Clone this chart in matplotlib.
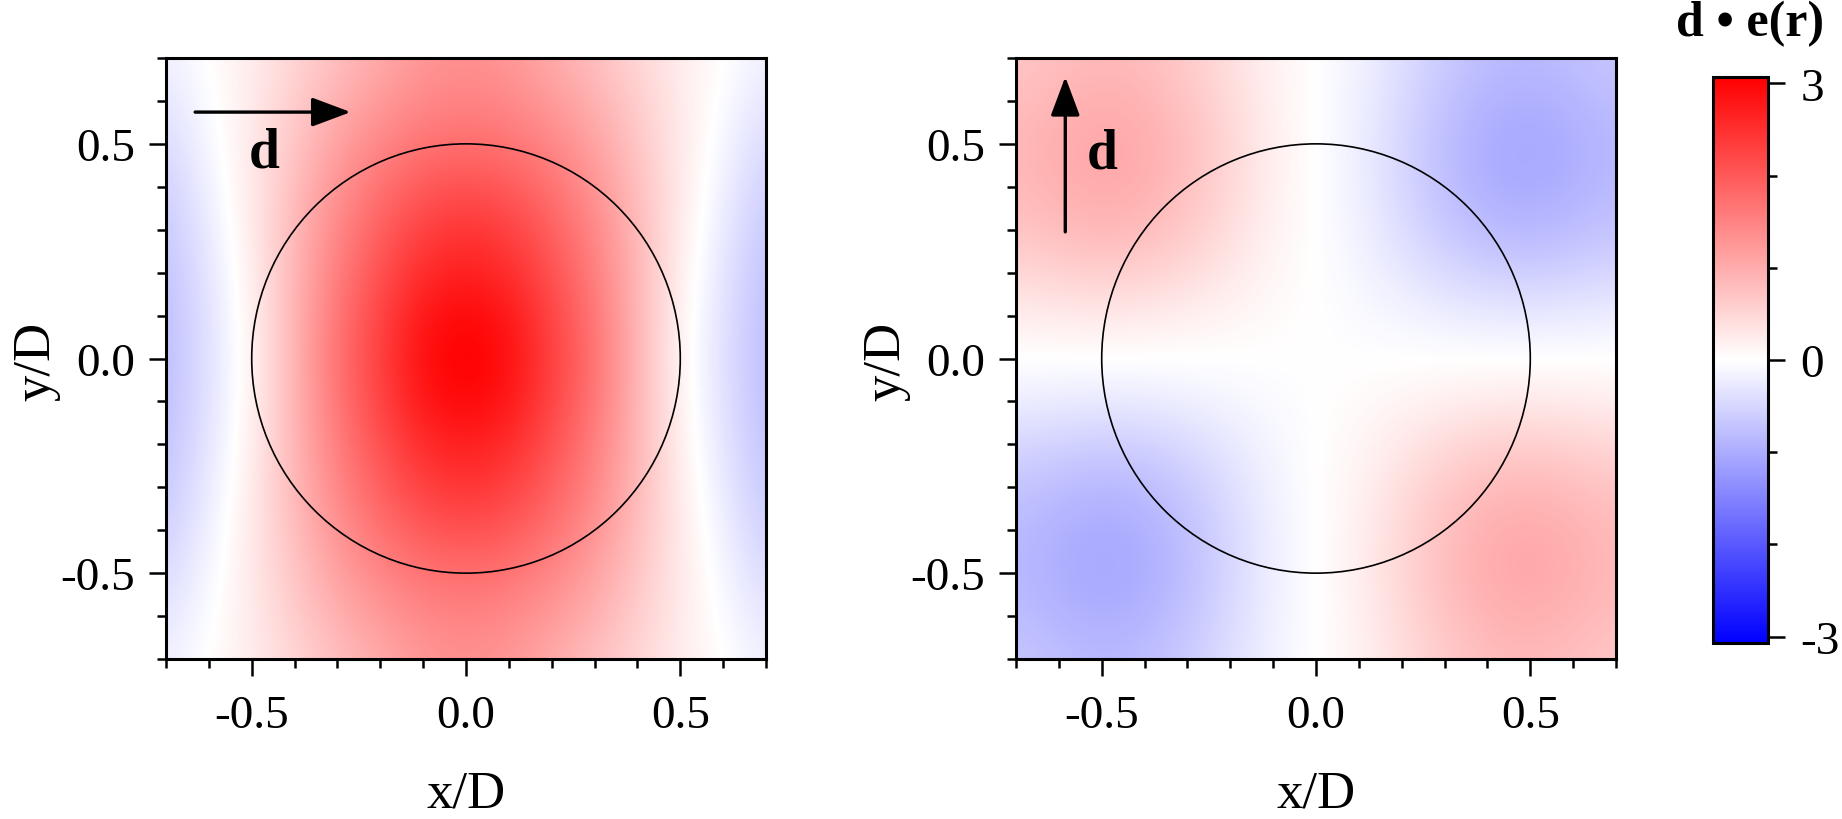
import numpy as np
import matplotlib
matplotlib.use("Agg")
import matplotlib.pyplot as plt
from matplotlib.colors import LinearSegmentedColormap, Normalize
from matplotlib.patches import Circle
from matplotlib.ticker import FixedLocator, FixedFormatter

plt.rcParams['font.family'] = 'serif'
plt.rcParams['font.serif'] = ['Liberation Serif', 'DejaVu Serif']

# grid coordinates (x/D, y/D)
grid_x = [-0.7, -0.6, -0.5, -0.4, -0.3, -0.2, -0.1, 0.0, 0.1, 0.2, 0.3, 0.4, 0.5, 0.6, 0.7]
grid_y = [-0.7, -0.6, -0.5, -0.4, -0.3, -0.2, -0.1, 0.0, 0.1, 0.2, 0.3, 0.4, 0.5, 0.6, 0.7]

# left panel: d along x  (rows: y from -0.7 to 0.7, cols: x from -0.7 to 0.7)
field_dx = [
    [-0.20, 0.02, 0.22, 0.50, 0.77, 1.02, 1.25, 1.35, 1.25, 1.02, 0.77, 0.50, 0.22, 0.02, -0.20],
    [-0.32, -0.04, 0.24, 0.60, 0.95, 1.22, 1.42, 1.50, 1.42, 1.22, 0.95, 0.60, 0.24, -0.04, -0.32],
    [-0.45, -0.10, 0.25, 0.70, 1.12, 1.45, 1.68, 1.75, 1.68, 1.45, 1.12, 0.70, 0.25, -0.10, -0.45],
    [-0.58, -0.17, 0.25, 0.78, 1.30, 1.70, 2.00, 2.10, 2.00, 1.70, 1.30, 0.78, 0.25, -0.17, -0.58],
    [-0.67, -0.24, 0.22, 0.85, 1.45, 1.92, 2.30, 2.45, 2.30, 1.92, 1.45, 0.85, 0.22, -0.24, -0.67],
    [-0.74, -0.30, 0.18, 0.88, 1.55, 2.10, 2.55, 2.70, 2.55, 2.10, 1.55, 0.88, 0.18, -0.30, -0.74],
    [-0.78, -0.34, 0.14, 0.90, 1.65, 2.25, 2.80, 3.00, 2.80, 2.25, 1.65, 0.90, 0.14, -0.34, -0.78],
    [-0.80, -0.35, 0.12, 0.90, 1.70, 2.30, 2.90, 3.10, 2.90, 2.30, 1.70, 0.90, 0.12, -0.35, -0.80],
    [-0.78, -0.34, 0.14, 0.90, 1.65, 2.25, 2.80, 3.00, 2.80, 2.25, 1.65, 0.90, 0.14, -0.34, -0.78],
    [-0.74, -0.30, 0.18, 0.88, 1.55, 2.10, 2.55, 2.70, 2.55, 2.10, 1.55, 0.88, 0.18, -0.30, -0.74],
    [-0.67, -0.24, 0.22, 0.85, 1.45, 1.92, 2.30, 2.45, 2.30, 1.92, 1.45, 0.85, 0.22, -0.24, -0.67],
    [-0.58, -0.17, 0.25, 0.78, 1.30, 1.70, 2.00, 2.10, 2.00, 1.70, 1.30, 0.78, 0.25, -0.17, -0.58],
    [-0.45, -0.10, 0.25, 0.70, 1.12, 1.45, 1.68, 1.75, 1.68, 1.45, 1.12, 0.70, 0.25, -0.10, -0.45],
    [-0.32, -0.04, 0.24, 0.60, 0.95, 1.22, 1.42, 1.50, 1.42, 1.22, 0.95, 0.60, 0.24, -0.04, -0.32],
    [-0.20, 0.02, 0.22, 0.50, 0.77, 1.02, 1.25, 1.35, 1.25, 1.02, 0.77, 0.50, 0.22, 0.02, -0.20],
]

# right panel: d along y
field_dy = [
    [-0.67, -0.77, -0.84, -0.79, -0.62, -0.39, -0.15, 0.0, 0.15, 0.39, 0.62, 0.79, 0.84, 0.77, 0.67],
    [-0.77, -0.89, -0.97, -0.91, -0.71, -0.44, -0.17, 0.0, 0.17, 0.44, 0.71, 0.91, 0.97, 0.89, 0.77],
    [-0.84, -0.97, -1.05, -0.99, -0.78, -0.48, -0.19, 0.0, 0.19, 0.48, 0.78, 0.99, 1.05, 0.97, 0.84],
    [-0.81, -0.94, -1.02, -0.96, -0.75, -0.47, -0.18, 0.0, 0.18, 0.47, 0.75, 0.96, 1.02, 0.94, 0.81],
    [-0.69, -0.79, -0.86, -0.81, -0.64, -0.40, -0.15, 0.0, 0.15, 0.40, 0.64, 0.81, 0.86, 0.79, 0.69],
    [-0.47, -0.54, -0.59, -0.55, -0.44, -0.27, -0.11, 0.0, 0.11, 0.27, 0.44, 0.55, 0.59, 0.54, 0.47],
    [-0.21, -0.24, -0.26, -0.25, -0.19, -0.12, -0.05, 0.0, 0.05, 0.12, 0.19, 0.25, 0.26, 0.24, 0.21],
    [0.0, 0.0, 0.0, 0.0, 0.0, 0.0, 0.0, 0.0, 0.0, 0.0, 0.0, 0.0, 0.0, 0.0, 0.0],
    [0.21, 0.24, 0.26, 0.25, 0.19, 0.12, 0.05, 0.0, -0.05, -0.12, -0.19, -0.25, -0.26, -0.24, -0.21],
    [0.47, 0.54, 0.59, 0.55, 0.44, 0.27, 0.11, 0.0, -0.11, -0.27, -0.44, -0.55, -0.59, -0.54, -0.47],
    [0.69, 0.79, 0.86, 0.81, 0.64, 0.40, 0.15, 0.0, -0.15, -0.40, -0.64, -0.81, -0.86, -0.79, -0.69],
    [0.81, 0.94, 1.02, 0.96, 0.75, 0.47, 0.18, 0.0, -0.18, -0.47, -0.75, -0.96, -1.02, -0.94, -0.81],
    [0.84, 0.97, 1.05, 0.99, 0.78, 0.48, 0.19, 0.0, -0.19, -0.48, -0.78, -0.99, -1.05, -0.97, -0.84],
    [0.77, 0.89, 0.97, 0.91, 0.71, 0.44, 0.17, 0.0, -0.17, -0.44, -0.71, -0.91, -0.97, -0.89, -0.77],
    [0.67, 0.77, 0.84, 0.79, 0.62, 0.39, 0.15, 0.0, -0.15, -0.39, -0.62, -0.79, -0.84, -0.77, -0.67],
]

major_ticks = [-0.5, 0.0, 0.5]
major_labels = ['-0.5', '0.0', '0.5']
minor_ticks = [-0.7, -0.6, -0.4, -0.3, -0.2, -0.1, 0.1, 0.2, 0.3, 0.4, 0.6, 0.7]
cbar_ticks = [-3, 0, 3]
cbar_labels = ['-3', '0', '3']
cbar_minor = [-2, -1, 1, 2]
circle_radius = 0.5

W, H = 1842, 820
fig = plt.figure(figsize=(W / 100, H / 100), dpi=100)

cmap = LinearSegmentedColormap.from_list('bwr_lin', [(0, 0, 1), (1, 1, 1), (1, 0, 0)], N=512)
norm = Normalize(vmin=-3.07, vmax=3.07)

dx = grid_x[1] - grid_x[0]
extent = [grid_x[0] - dx / 2, grid_x[-1] + dx / 2, grid_y[0] - dx / 2, grid_y[-1] + dx / 2]

def make_panel(left_px, data):
    ax = fig.add_axes([left_px / W, 1 - 660 / H, 600 / W, 601 / H])
    im = ax.imshow(np.array(data), origin='lower', extent=extent, cmap=cmap, norm=norm,
                   interpolation='bicubic', interpolation_stage='data', aspect='auto')
    ax.set_xlim(-0.7, 0.7)
    ax.set_ylim(-0.7, 0.7)
    ax.add_patch(Circle((0, 0), circle_radius, fill=False, edgecolor='black', lw=1.2))
    for a in (ax.xaxis, ax.yaxis):
        a.set_major_locator(FixedLocator(major_ticks))
        a.set_major_formatter(FixedFormatter(major_labels))
        a.set_minor_locator(FixedLocator(minor_ticks))
    ax.tick_params(which='both', direction='out', top=False, right=False, width=1.8, labelsize=34)
    ax.tick_params(which='major', length=12.5)
    ax.tick_params(which='minor', length=6.5)
    ax.tick_params(axis='x', which='major', pad=13)
    ax.tick_params(axis='y', which='major', pad=10)
    for s in ax.spines.values():
        s.set_linewidth(2.2)
    return ax, im

ax1, im1 = make_panel(166, field_dx)
ax2, im2 = make_panel(1016, field_dy)

arrow_style = dict(arrowstyle='-|>,head_length=1.2,head_width=0.45', lw=2.4, color='black',
                   shrinkA=0, shrinkB=0, mutation_scale=20)
ax1.annotate('', xy=(-0.269, 0.574), xytext=(-0.632, 0.574), arrowprops=arrow_style)
ax1.text(-0.47, 0.48, 'd', fontsize=40, fontweight='bold', ha='center', va='center')
ax2.annotate('', xy=(-0.585, 0.656), xytext=(-0.585, 0.295), arrowprops=arrow_style)
ax2.text(-0.50, 0.477, 'd', fontsize=40, fontweight='bold', ha='center', va='center')

for cx in (466, 1316):
    fig.text(cx / W, 1 - 795 / H, 'x/D', fontsize=38, ha='center', va='center')
for cx in (36, 886):
    fig.text(cx / W, 1 - 361 / H, 'y/D', fontsize=38, ha='center', va='center', rotation=90)

cax = fig.add_axes([1713 / W, 1 - 644 / H, 55 / W, 566 / H])
cb = fig.colorbar(im1, cax=cax)
cb.set_ticks(cbar_ticks)
cb.set_ticklabels(cbar_labels)
cax.yaxis.set_minor_locator(FixedLocator(cbar_minor))
cax.tick_params(which='both', direction='out', width=1.8, labelsize=34)
cax.tick_params(which='major', length=12.5, pad=11)
cax.tick_params(which='minor', length=6.5)
cb.outline.set_linewidth(2.2)
fig.text(1750 / W, 1 - 24 / H, 'd \u2022 e(r)', fontsize=36, fontweight='bold', ha='center', va='center')

fig.savefig('out.png', dpi=100)
